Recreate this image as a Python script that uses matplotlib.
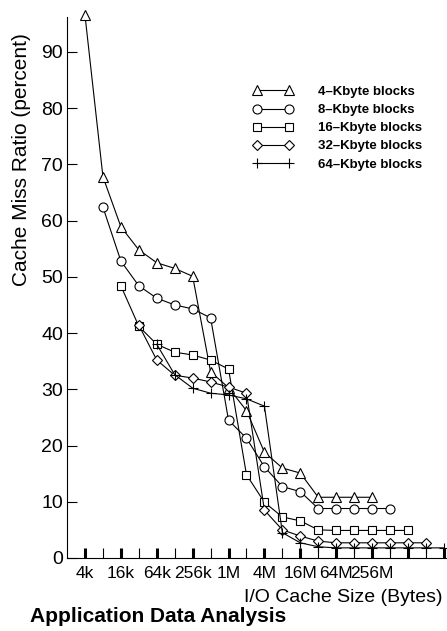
#!/usr/bin/env python3

import matplotlib
matplotlib.use('Agg')
import matplotlib.pyplot as plt

plt.rcParams['font.family'] = ['Liberation Sans', 'DejaVu Sans']

# x positions are log2 of the cache size in bytes (12 = 4k ... 32 = 4G)
x_4k = list(range(12, 29))
x_8k = list(range(13, 30))
x_16k = list(range(14, 31))
x_32k = list(range(15, 32))
x_64k = list(range(16, 33))

miss_4k = [96.5, 67.8, 58.9, 54.8, 52.5, 51.5, 50.1, 33.1, 30.3, 26.2, 18.8,
           16.0, 15.1, 10.8, 10.8, 10.8, 10.8]
miss_8k = [62.4, 52.8, 48.4, 46.2, 45.0, 44.3, 42.7, 24.5, 21.3, 16.2, 12.7,
           11.8, 8.8, 8.8, 8.8, 8.8, 8.8]
miss_16k = [48.4, 41.2, 38.0, 36.6, 36.1, 35.2, 33.6, 14.8, 9.9, 7.3, 6.6,
            5.0, 4.9, 4.9, 4.9, 4.9, 4.9]
miss_32k = [41.4, 35.2, 32.5, 32.0, 31.3, 30.4, 29.3, 8.5, 5.0, 3.9, 3.0,
            2.7, 2.7, 2.7, 2.7, 2.7, 2.7]
miss_64k = [38.0, 32.6, 30.2, 29.3, 29.0, 28.3, 27.0, 4.5, 2.7, 2.0, 1.8,
            1.8, 1.8, 1.8, 1.8, 1.8, 1.8]

major_ticks = list(range(12, 33, 2))
minor_ticks = list(range(13, 32, 2))
major_labels = ['4k', '16k', '64k', '256k', '1M', '4M', '16M', '64M', '256M', '', '']
y_ticks = [0, 10, 20, 30, 40, 50, 60, 70, 80, 90]

fig = plt.figure(figsize=(4.47, 6.31), dpi=100)
ax = fig.add_axes([0.150, 0.1157, 0.849, 0.8573])

style = dict(color='black', linewidth=0.8, markerfacecolor='white',
             markeredgecolor='black', markeredgewidth=0.8, clip_on=False)
ax.plot(x_4k, miss_4k, marker='^', markersize=7, label='4–Kbyte blocks', **style)
ax.plot(x_8k, miss_8k, marker='o', markersize=6.5, label='8–Kbyte blocks', **style)
ax.plot(x_16k, miss_16k, marker='s', markersize=6, label='16–Kbyte blocks', **style)
ax.plot(x_32k, miss_32k, marker='D', markersize=5, label='32–Kbyte blocks', **style)
ax.plot(x_64k, miss_64k, marker='+', markersize=7, label='64–Kbyte blocks', **style)

ax.set_xlim(11, 32.15)
ax.set_ylim(0, 96.2)

ax.set_xticks(major_ticks)
ax.set_xticklabels(major_labels, fontsize=12.5)
ax.set_xticks(minor_ticks, minor=True)
ax.tick_params(axis='x', which='major', direction='in', length=7.5, width=2.2, pad=6)
ax.tick_params(axis='x', which='minor', direction='in', length=7.5, width=0.8)
ax.set_yticks(y_ticks)
ax.tick_params(axis='y', direction='in', length=7, width=0.8, pad=3, labelsize=14)

ax.spines['top'].set_visible(False)
ax.spines['right'].set_visible(False)
for s in ['left', 'bottom']:
    ax.spines[s].set_linewidth(0.8)

leg = ax.legend(loc='upper left', bbox_to_anchor=(0.46, 0.895), numpoints=2,
                handlelength=3.0, handletextpad=1.9, labelspacing=0.45,
                frameon=False, prop={'weight': 'bold', 'size': 9.5})

fig.text(22 / 447, 1 - 160 / 631, 'Cache Miss Ratio (percent)', rotation=90,
         ha='center', va='center', fontsize=15)
fig.text(442 / 447, 1 - 597 / 631, 'I/O Cache Size (Bytes)',
         ha='right', va='center', fontsize=14)
fig.text(30 / 447, 1 - 617 / 631, 'Application Data Analysis',
         ha='left', va='center', fontsize=15, fontweight='bold')

plt.savefig('out.png', dpi=100)
plt.close()
